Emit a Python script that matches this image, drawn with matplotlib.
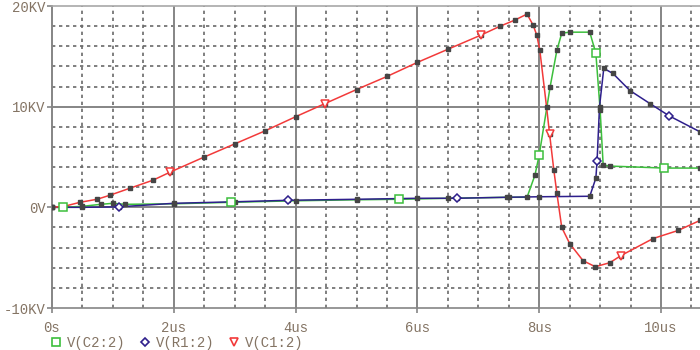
import matplotlib
matplotlib.use("Agg")
import matplotlib.pyplot as plt
from matplotlib.lines import Line2D

# ---- data (time in us, voltage in KV) ----
c1_t = [0, 0.2, 0.46, 0.74, 0.95, 1.28, 1.66, 1.94, 2.5, 3.0, 3.5, 4.0, 4.48, 5.0, 5.5,
        6.0, 6.5, 7.04, 7.36, 7.6, 7.8, 7.9, 7.96, 8.01, 8.12, 8.17, 8.24, 8.29, 8.37,
        8.5, 8.72, 8.92, 9.16, 9.34, 9.87, 10.28, 10.64]
c1_v = [0, 0.1, 0.5, 0.8, 1.2, 1.9, 2.7, 3.5, 5.0, 6.3, 7.6, 9.0, 10.3, 11.7, 13.0,
        14.4, 15.7, 17.1, 18.0, 18.6, 19.2, 18.1, 17.1, 15.6, 10.0, 7.3, 3.7, 1.4, -2.0,
        -3.6, -5.3, -5.9, -5.5, -4.8, -3.1, -2.3, -1.3]
c1_marks = [7, 12, 17, 25, 33]

c2_t = [0, 0.18, 0.5, 0.8, 1.0, 1.2, 2.0, 2.94, 4.0, 5.0, 5.7, 6.5, 7.5, 7.8, 7.93,
        8.0, 8.18, 8.29, 8.37, 8.5, 8.83, 8.93, 9.0, 9.05, 9.16, 10.05, 10.64]
c2_v = [0, 0, 0.1, 0.3, 0.4, 0.3, 0.35, 0.5, 0.65, 0.75, 0.8, 0.9, 1.0, 1.0, 3.2,
        5.2, 12.0, 15.6, 17.3, 17.4, 17.4, 15.3, 9.7, 4.2, 4.1, 3.9, 3.9]
c2_marks = [1, 7, 10, 15, 21, 25]

r1_t = [0, 0.5, 1.1, 2.0, 3.0, 3.88, 5.0, 6.0, 6.65, 7.47, 8.0, 8.83, 8.93, 8.95,
        8.99, 9.06, 9.21, 9.49, 9.82, 10.13, 10.64]
r1_v = [0, 0, 0.05, 0.4, 0.55, 0.7, 0.8, 0.9, 0.9, 1.0, 1.05, 1.1, 2.9, 4.6,
        10.0, 13.8, 13.3, 11.6, 10.3, 9.1, 7.5]
r1_marks = [2, 5, 8, 13, 19]

x_ticks = [0, 2, 4, 6, 8, 10]
x_labels = ["0s", "2us", "4us", "6us", "8us", "10us"]
y_ticks = [-10, 0, 10, 20]
y_labels = ["-10KV", "0V", "10KV", "20KV"]
legend_labels = ["V(C2:2)", "V(R1:2)", "V(C1:2)"]

# ---- style ----
FONT = "Liberation Mono"
TXT = "#847464"
GREEN = "#3cbf3c"
BLUE = "#2e1f8c"
RED = "#f23a3a"
DOT = "#454545"

plt.rcParams["font.family"] = [FONT, "DejaVu Sans Mono"]

fig = plt.figure(figsize=(7, 3.5), dpi=100)
ax = fig.add_axes([52 / 700, 1 - 308 / 350, 1 - 52 / 700, (308 - 6) / 350])
ax.set_xlim(0, 10.64)
ax.set_ylim(-10, 20)

# grid
for xv in [i * 0.5 for i in range(22)]:
    if abs(xv / 2 - round(xv / 2)) > 1e-6:
        ax.axvline(xv, color="#6a6a6a", lw=1.2, ls=(0, (2, 2.2)), zorder=1)
for yv in range(-10, 21, 2):
    if yv % 10 != 0:
        ax.axhline(yv, color="#6a6a6a", lw=1.2, ls=(0, (2, 2.2)), zorder=1)
for xv in x_ticks[1:]:
    ax.axvline(xv, color="#858585", lw=1.4, zorder=1)
ax.axhline(0, color="#858585", lw=1.4, zorder=1)
ax.axhline(10, color="#858585", lw=1.4, zorder=1)

for s in ["right"]:
    ax.spines[s].set_visible(False)
ax.spines["left"].set_color("#858585")
ax.spines["left"].set_linewidth(1.4)
ax.spines["bottom"].set_color("#858585")
ax.spines["bottom"].set_linewidth(1.2)
ax.spines["top"].set_color("#a8a8a8")
ax.spines["top"].set_linewidth(1.2)

ax.set_xticks(x_ticks)
ax.set_xticklabels(x_labels)
ax.set_yticks(y_ticks)
ax.set_yticklabels(y_labels)
ax.tick_params(axis="both", colors="#858585", labelcolor=TXT, labelsize=10,
               length=3.5, width=1.2, direction="out")
ax.tick_params(axis="x", pad=6)
ax.tick_params(axis="y", pad=1)


def draw(t, v, color, marker, ms, marks):
    ax.plot(t, v, color=color, lw=1.1, zorder=3)
    ax.plot(t, v, ls="none", marker="s", ms=2.2, color=DOT, mec=DOT, zorder=4)
    ax.plot(t, v, ls="none", marker=marker, ms=ms, mfc="white", mec=color,
            mew=1.1, markevery=marks, zorder=5)


draw(c2_t, c2_v, GREEN, "s", 6, c2_marks)
draw(r1_t, r1_v, BLUE, "D", 4.5, r1_marks)
draw(c1_t, c1_v, RED, "v", 6, c1_marks)

handles = [
    Line2D([], [], ls="none", marker="s", ms=6, mfc="white", mec=GREEN, mew=1.2),
    Line2D([], [], ls="none", marker="D", ms=4.5, mfc="white", mec=BLUE, mew=1.2),
    Line2D([], [], ls="none", marker="v", ms=6, mfc="white", mec=RED, mew=1.2),
]
fig.legend(handles, legend_labels, loc="center left",
           bbox_to_anchor=(50 / 700, 1 - 343 / 350), ncol=3, frameon=False,
           handlelength=0.8, handletextpad=0.4, columnspacing=1.0,
           borderpad=0, borderaxespad=0, labelcolor=TXT, fontsize=10)

fig.savefig("out.png", dpi=100, facecolor="white")
